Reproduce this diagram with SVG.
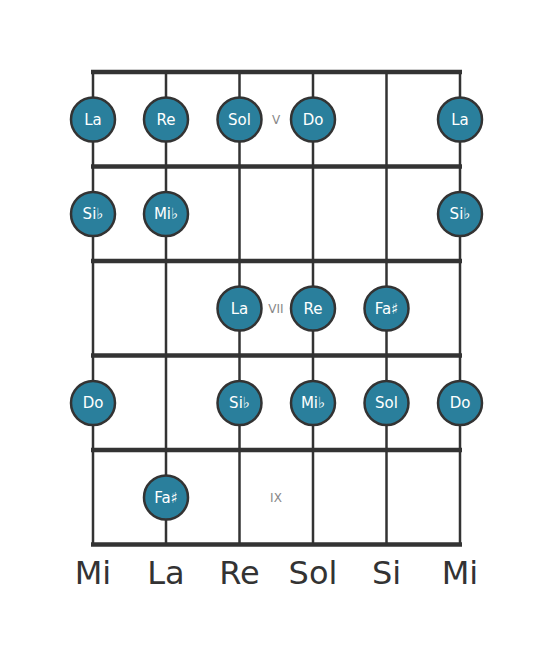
<svg xmlns="http://www.w3.org/2000/svg" width="553" height="656" viewBox="0 0 553 656">
<style>
.fret{stroke:#333;stroke-width:4.5;stroke-linecap:butt}
.str{stroke:#333;stroke-width:2.5}
.note circle{fill:#2a7f9c;stroke:#333;stroke-width:2.5}
.note text{fill:#fff;font-family:"DejaVu Sans",sans-serif;font-size:15px;text-anchor:middle;dominant-baseline:central}
.fn{fill:#888;font-family:"DejaVu Sans",sans-serif;font-size:12px;text-anchor:middle;dominant-baseline:central}
.sn{fill:#333;font-family:"DejaVu Sans",sans-serif;font-size:32px;text-anchor:middle}
</style>
<rect width="553" height="656" fill="#fff"/>
<g id="connectors">
<line class="str" x1="93" y1="72" x2="93" y2="545"/>
<line class="str" x1="166" y1="72" x2="166" y2="545"/>
<line class="str" x1="239.5" y1="72" x2="239.5" y2="545"/>
<line class="str" x1="313" y1="72" x2="313" y2="545"/>
<line class="str" x1="386.5" y1="72" x2="386.5" y2="545"/>
<line class="str" x1="460" y1="72" x2="460" y2="545"/>
<line class="fret" x1="91" y1="72" x2="462" y2="72"/>
<line class="fret" x1="91" y1="166.5" x2="462" y2="166.5"/>
<line class="fret" x1="91" y1="261" x2="462" y2="261"/>
<line class="fret" x1="91" y1="355.5" x2="462" y2="355.5"/>
<line class="fret" x1="91" y1="450" x2="462" y2="450"/>
<line class="fret" x1="91" y1="544.5" x2="462" y2="544.5"/>
</g>
<text class="fn" x="276" y="120">V</text>
<text class="fn" x="276" y="309">VII</text>
<text class="fn" x="276" y="498">IX</text>
<g id="n1" class="note"><circle cx="93" cy="119.5" r="22"/><text x="93" y="119.5">La</text></g>
<g id="n2" class="note"><circle cx="166" cy="119.5" r="22"/><text x="166" y="119.5">Re</text></g>
<g id="n3" class="note"><circle cx="239.5" cy="119.5" r="22"/><text x="239.5" y="119.5">Sol</text></g>
<g id="n4" class="note"><circle cx="313" cy="119.5" r="22"/><text x="313" y="119.5">Do</text></g>
<g id="n5" class="note"><circle cx="460" cy="119.5" r="22"/><text x="460" y="119.5">La</text></g>
<g id="n6" class="note"><circle cx="93" cy="214" r="22"/><text x="93" y="214">Si♭</text></g>
<g id="n7" class="note"><circle cx="166" cy="214" r="22"/><text x="166" y="214">Mi♭</text></g>
<g id="n8" class="note"><circle cx="460" cy="214" r="22"/><text x="460" y="214">Si♭</text></g>
<g id="n9" class="note"><circle cx="239.5" cy="308.5" r="22"/><text x="239.5" y="308.5">La</text></g>
<g id="n10" class="note"><circle cx="313" cy="308.5" r="22"/><text x="313" y="308.5">Re</text></g>
<g id="n11" class="note"><circle cx="386.5" cy="308.5" r="22"/><text x="386.5" y="308.5">Fa♯</text></g>
<g id="n12" class="note"><circle cx="93" cy="403" r="22"/><text x="93" y="403">Do</text></g>
<g id="n13" class="note"><circle cx="239.5" cy="403" r="22"/><text x="239.5" y="403">Si♭</text></g>
<g id="n14" class="note"><circle cx="313" cy="403" r="22"/><text x="313" y="403">Mi♭</text></g>
<g id="n15" class="note"><circle cx="386.5" cy="403" r="22"/><text x="386.5" y="403">Sol</text></g>
<g id="n16" class="note"><circle cx="460" cy="403" r="22"/><text x="460" y="403">Do</text></g>
<g id="n17" class="note"><circle cx="166" cy="497.5" r="22"/><text x="166" y="497.5">Fa♯</text></g>
<text class="sn" x="93" y="584">Mi</text>
<text class="sn" x="166" y="584">La</text>
<text class="sn" x="239.5" y="584">Re</text>
<text class="sn" x="313" y="584">Sol</text>
<text class="sn" x="386.5" y="584">Si</text>
<text class="sn" x="460" y="584">Mi</text>
</svg>
